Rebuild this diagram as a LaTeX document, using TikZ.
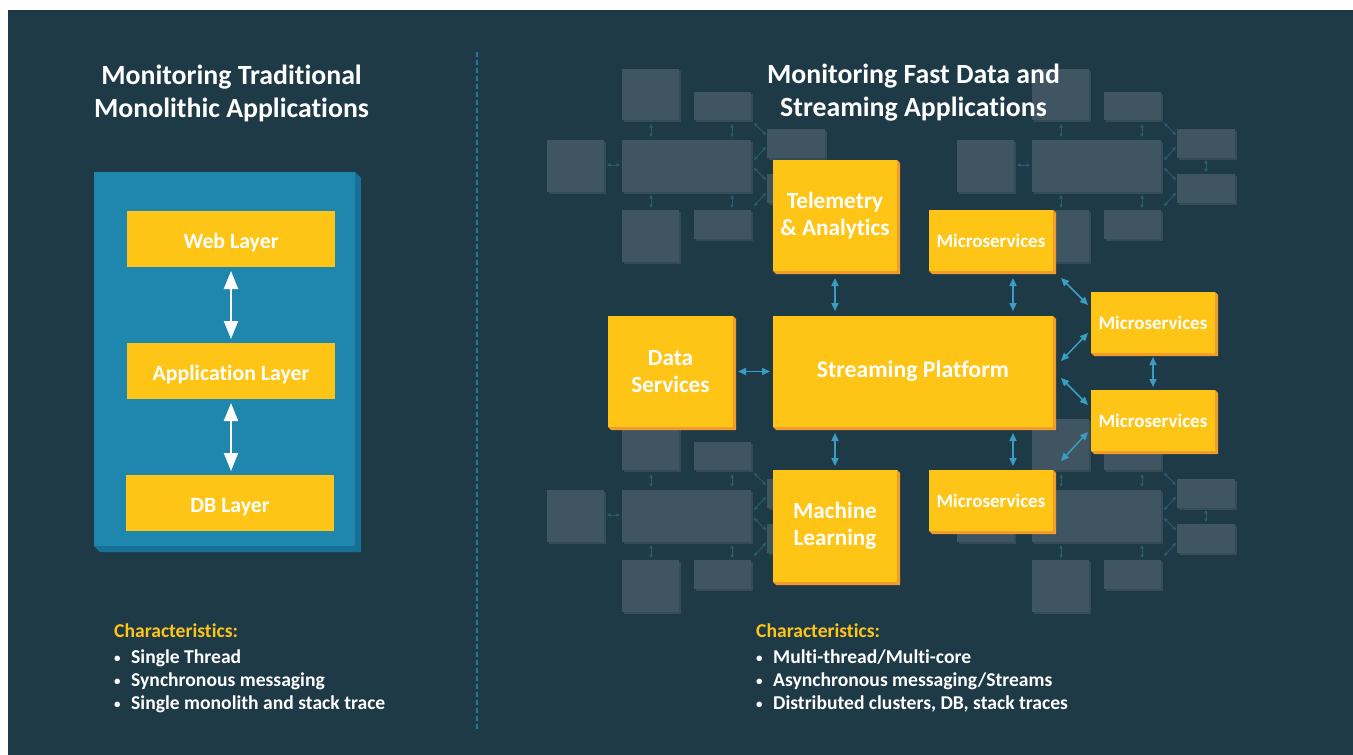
\documentclass[tikz,border=0pt]{standalone}
\usepackage{fontspec}
\setmainfont{Carlito}[Ligatures=NoCommon]
\usetikzlibrary{arrows.meta,calc}
\pgfdeclarelayer{back}
\pgfdeclarelayer{shad}
\pgfsetlayers{back,shad,main}
\definecolor{bgc}{HTML}{1E3A47}
\definecolor{gboxc}{HTML}{3F5662}
\definecolor{gshadc}{HTML}{344C58}
\definecolor{garrc}{HTML}{2C5A6E}
\definecolor{monoc}{HTML}{1F86AE}
\definecolor{monoshc}{HTML}{167194}
\definecolor{yelc}{HTML}{FEC516}
\definecolor{orac}{HTML}{F49C2B}
\definecolor{barrc}{HTML}{3C9DC4}
\definecolor{sepc}{HTML}{1F7AA0}
\definecolor{charc}{HTML}{FEC516}
\newcommand\yellowbox[8]{%
  \node[ybox, font=\bfseries\fontsize{#6}{#7}\selectfont, minimum width=#4pt, minimum height=#5pt, anchor=north west] (#1) at (#2,#3) {#8};
  \begin{pgfonlayer}{shad}
    \fill[orac] (#1.north east) -- ++(3,3) -- ($(#1.south east)+(3,3)$) -- ($(#1.south west)+(3,3)$) -- (#1.south west) -- cycle;
  \end{pgfonlayer}}
\newcommand\ghostset[2]{%
  \begin{scope}[shift={(#1,#2)}]
    \foreach \a/\b/\c/\d in {622/69/679/120, 694/92/751/120, 547/140/604/192, 622/140/751/192, 622/210/679/262, 694/210/751/239, 767/129/825/158, 767/174/825/203}{
      \fill[gshadc] (\a+1.5,\b+1.5) rectangle (\c+1.5,\d+1.5);
      \fill[gboxc] (\a,\b) rectangle (\c,\d);
    }
    \foreach \a/\b/\c/\d in {651/124/651/137, 732/124/732/137, 607/165/620/165, 651/195/651/208, 732/195/732/208, 754/123/766/135, 766/147/754/160, 754/168/766/180, 766/193/754/206, 796/160/796/172}{
      \draw[garrow] (\a,\b) -- (\c,\d);
    }
  \end{scope}}
\newcommand\bul{\makebox[17pt][l]{\raisebox{1.8pt}{\fontsize{13}{13}\selectfont\textbullet}}}
\begin{document}
\begin{tikzpicture}[x=1pt,y=-1pt,
  ybox/.style={fill=yelc, text=white, inner sep=0pt, outer sep=0pt, align=center},
  lbox/.style={fill=yelc, text=white, inner sep=0pt, outer sep=0pt, minimum width=208pt, minimum height=56pt, anchor=north west, text height=18pt, text depth=0pt, font=\bfseries\fontsize{21.8}{25}\selectfont},
  monobox/.style={fill=monoc, inner sep=0pt, outer sep=0pt},
  titletext/.style={text=white, align=center, inner sep=0pt, font=\bfseries\fontsize{27.8}{33}\selectfont},
  chartext/.style={text=white, align=left, inner sep=0pt, anchor=north west, font=\bfseries\fontsize{19.6}{23}\selectfont},
  warrow/.style={draw=white, line width=2pt, {Triangle[width=14pt,length=18pt]}-{Triangle[width=14pt,length=18pt]}, shorten <=4pt, shorten >=4pt},
  barrow/.style={draw=barrc, line width=1.5pt, {Triangle[width=7pt,length=8pt]}-{Triangle[width=7pt,length=8pt]}},
  garrow/.style={draw=garrc, line width=0.9pt, {Triangle[width=3.5pt,length=3.5pt]}-{Triangle[width=3.5pt,length=3.5pt]}},
  sepline/.style={draw=sepc, line width=1.5pt, dash pattern=on 5pt off 3pt}
]
\useasboundingbox (0,0) rectangle (1353,755);
\begin{pgfonlayer}{back}
  \fill[white] (0,0) rectangle (1353,755);
  \fill[bgc] (8,10) rectangle (1353,755);
  \ghostset{0}{0}
  \ghostset{410}{0}
  \ghostset{0}{350}
  \ghostset{410}{350}
  \draw[sepline] (477,52) -- (477,730);
\end{pgfonlayer}

% titles
\node[titletext] (tl) at (231.5,93) {Monitoring Traditional\\Monolithic Applications};
\node[titletext] (tr) at (913.5,93) {Monitoring Fast Data and\\Streaming Applications};

% left panel
\node[monobox, minimum width=261pt, minimum height=374pt, anchor=north west] (mono) at (94,172) {};
\begin{pgfonlayer}{shad}
  \fill[monoshc] (mono.north east) -- ++(6,6) -- ($(mono.south east)+(6,6)$) -- ($(mono.south west)+(6,6)$) -- (mono.south west) -- cycle;
\end{pgfonlayer}
\node[lbox] (web) at (127,211) {Web Layer};
\node[lbox] (app) at (127,343) {Application Layer};
\node[lbox] (db) at (126,475) {DB Layer};
\draw[warrow] (web.south) -- (app.north);
\draw[warrow] (app.south) -- (app.south |- db.north);

% right panel
\yellowbox{tel}{773}{160}{124}{111}{23.2}{27}{Telemetry\\\& Analytics}
\yellowbox{msa}{929}{210}{124}{61}{19}{21}{Microservices}
\yellowbox{sp}{773}{316}{280}{111}{23.8}{27}{Streaming Platform}
\yellowbox{ds}{608}{316}{125}{111}{23.2}{27}{Data\\Services}
\yellowbox{msr}{1091}{292}{124}{61}{19}{21}{Microservices}
\yellowbox{mss}{1091}{390}{124}{61}{19}{21}{Microservices}
\yellowbox{ml}{773}{470}{124}{112}{23.2}{27}{Machine\\Learning}
\yellowbox{msb}{929}{470}{124}{61}{19}{21}{Microservices}

\coordinate (xr) at (1013,0);
\draw[barrow, shorten <=7pt, shorten >=5pt] (tel.south) -- (tel.south |- sp.north);
\draw[barrow, shorten <=7pt, shorten >=5pt] (msa.south -| xr) -- (sp.north -| xr);
\draw[barrow, shorten <=5pt, shorten >=3pt] (ds.east) -- (sp.west);
\draw[barrow, shorten <=6pt, shorten >=4pt] (ml.north |- sp.south) -- (ml.north);
\draw[barrow, shorten <=6pt, shorten >=4pt] (sp.south -| xr) -- (msb.north -| xr);
\draw[barrow, shorten <=4pt, shorten >=3pt] (msr.south) -- (mss.north);
\draw[barrow] ($(msa.south east)+(8,7)$) -- ($(msr.north west)+(-3,13)$);
\draw[barrow] ($(msr.south west)+(-3,-20)$) -- ($(sp.north east)+(8,45)$);
\draw[barrow] ($(sp.north east)+(8,62)$) -- ($(mss.north west)+(-3,15)$);
\draw[barrow] ($(mss.south west)+(-3,-19)$) -- ($(msb.north east)+(8,-9)$);

% characteristics
\node[chartext] (chl) at (114,624) {\textcolor{charc}{Characteristics:}\\[3pt]
  \bul Single Thread\\
  \bul Synchronous messaging\\
  \bul Single monolith and stack trace};
\node[chartext] (chr) at (756,624) {\textcolor{charc}{Characteristics:}\\[3pt]
  \bul Multi-thread/Multi-core\\
  \bul Asynchronous messaging/Streams\\
  \bul Distributed clusters, DB, stack traces};
\end{tikzpicture}
\end{document}
